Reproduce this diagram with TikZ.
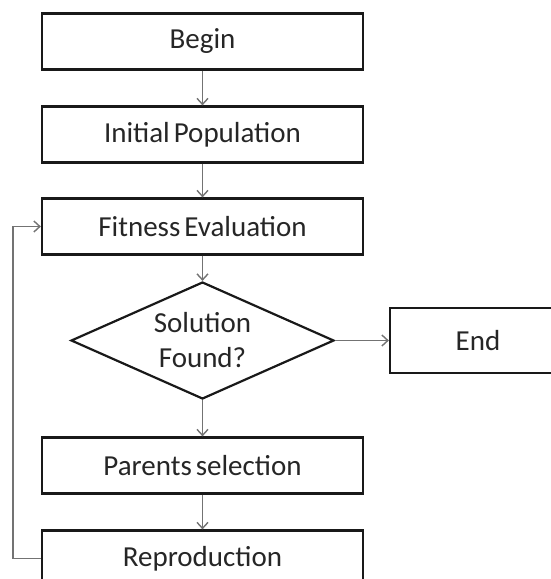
\documentclass[tikz,border=0pt]{standalone}
\usepackage{fontspec}
\setmainfont{Carlito}[WordSpace=0.6]
\usetikzlibrary{shapes.geometric,arrows.meta}
\tikzset{
  box/.style={draw=black!90, line width=2.2pt, minimum width=321pt, minimum height=56pt, inner sep=0pt, text=black!85, font=\fontsize{29}{35}\selectfont},
  dec/.style={draw=black!90, line width=2.2pt, diamond, aspect=2.25, minimum width=263pt, minimum height=117pt, inner xsep=-30pt, inner ysep=-20pt, text=black!85, align=center, font=\fontsize{29}{35}\selectfont},
  conn/.style={draw=black!55, line width=1.4pt, -{Straight Barb[length=6pt,width=11pt,line width=1.4pt]}}
}
\begin{document}
\begin{tikzpicture}[x=1pt,y=-1pt]
\useasboundingbox (0,0) rectangle (551,579);
\clip (0,0) rectangle (551,579);
\node[box] (begin) at (202.5,41.5) {Begin};
\node[box] (init) at (202.5,134.5) {Initial Population};
\node[box] (fit) at (202.5,226.5) {Fitness Evaluation};
\node[dec] (sol) at (202.5,340.5) {Solution\\Found?};
\node[box, minimum width=176pt, minimum height=65pt] (endn) at (478,340.5) {End};
\node[box] (par) at (202.5,465.5) {Parents selection};
\node[box] (rep) at (202.5,558.5) {Reproduction};
\coordinate (loopx) at (13,0);
\draw[conn] (begin) -- (init);
\draw[conn] (init) -- (fit);
\draw[conn] (fit) -- (sol);
\draw[conn] (sol) -- (endn);
\draw[conn] (sol) -- (par);
\draw[conn] (par) -- (rep);
\draw[conn] (rep.west) -- (rep.west -| loopx) -- (fit.west -| loopx) -- (fit.west);
\end{tikzpicture}
\end{document}
